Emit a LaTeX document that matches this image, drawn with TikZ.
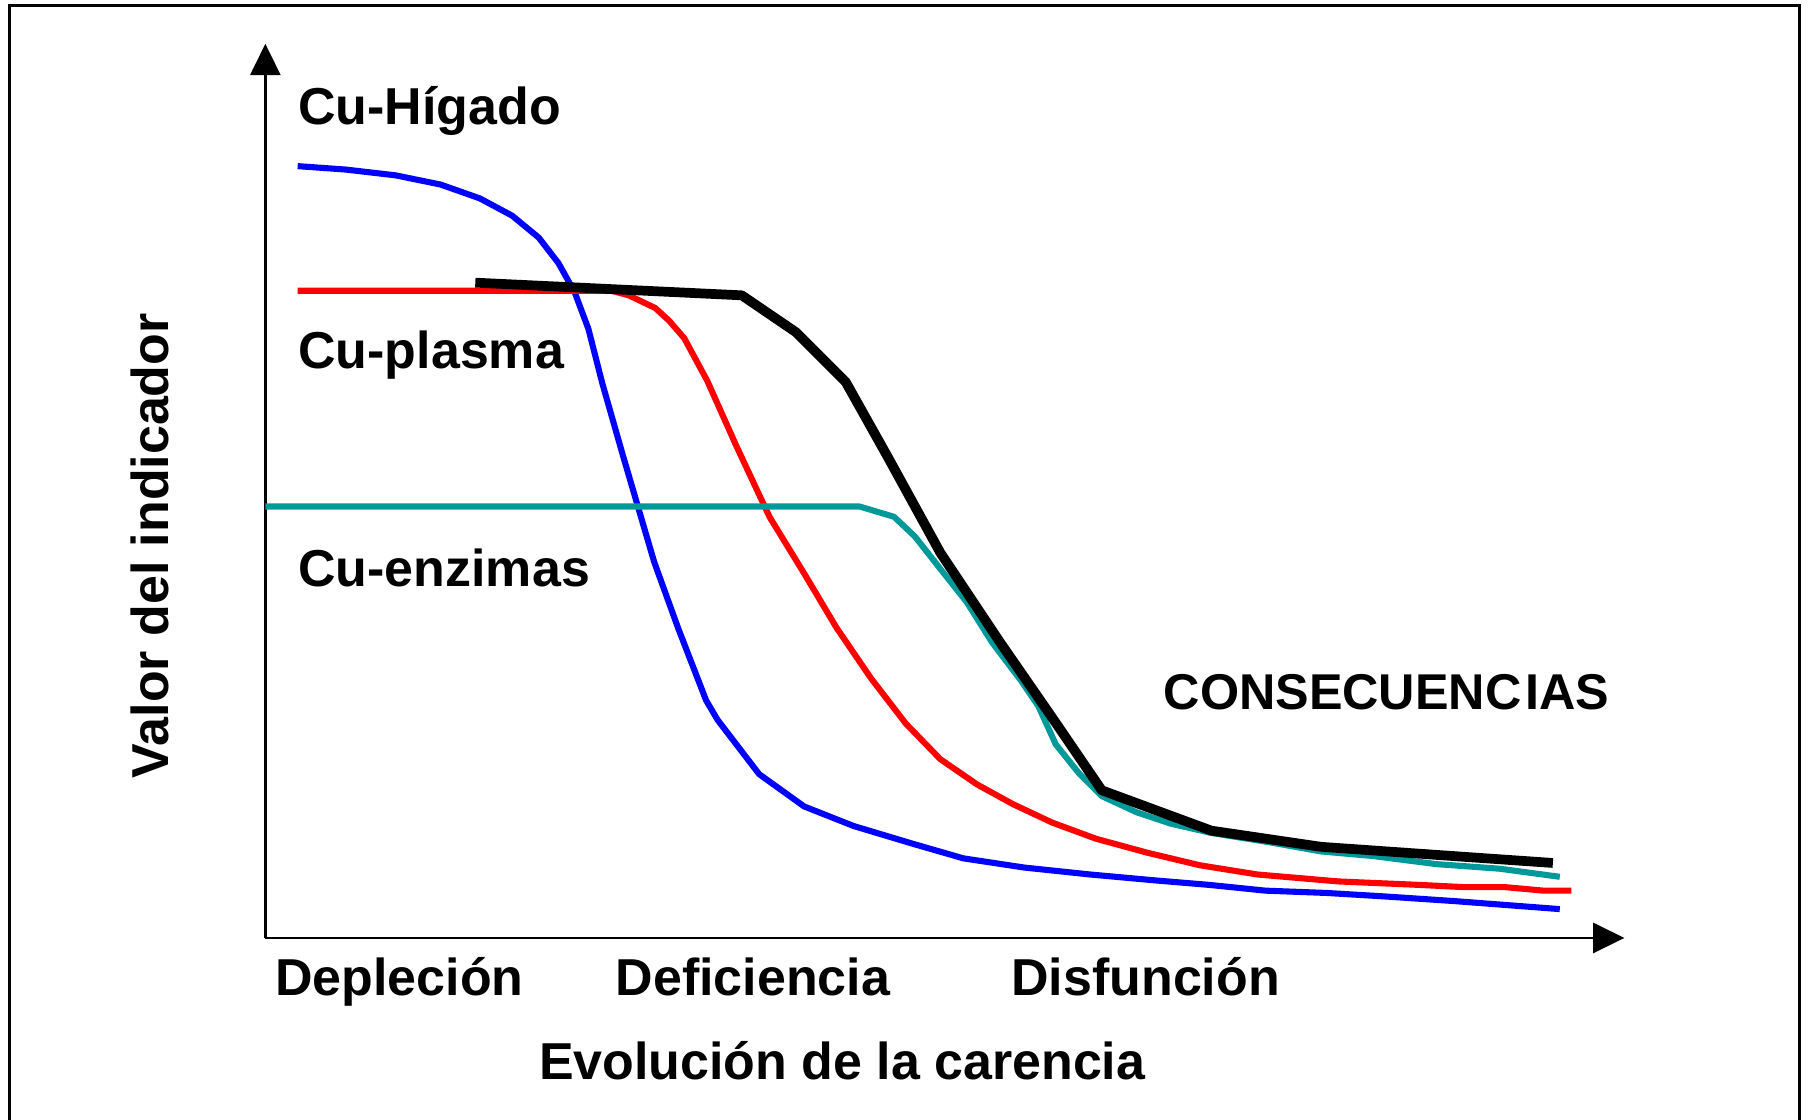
\documentclass[tikz,border=0pt]{standalone}
\usepackage{fontspec}
\setmainfont{Liberation Sans}
\usetikzlibrary{arrows.meta}

\definecolor{cublue}{RGB}{0,0,255}
\definecolor{cured}{RGB}{255,0,0}
\definecolor{cuteal}{RGB}{0,153,153}

\begin{document}
\begin{tikzpicture}[x=0.01cm,y=-0.01cm,
  lbl/.style={font=\fontsize{12.8}{15}\selectfont\bfseries,inner sep=0pt},
  axis/.style={line width=0.6pt,-{Triangle[length=2.7mm,width=2.6mm]}},
  curve/.style={line width=1.5pt,line join=round}]
\useasboundingbox (0,0) rectangle (1568,970);
% frame
\draw[line width=0.8pt] (8,980) -- (8,5) -- (1560,5) -- (1560,980);

% axes
\coordinate (orig) at (230,813);
\coordinate (ytip) at (230,38);
\coordinate (xtip) at (1408,813);
\draw[axis] (orig) -- (ytip);
\draw[axis] (orig) -- (xtip);

% Cu-Higado
\draw[curve,cublue] (258,144) -- (300,147) -- (343,152) -- (382,160) -- (416,172)
  -- (444,187) -- (467,206) -- (484,228) -- (498,253) -- (510,285) -- (522,332)
  -- (540,395) -- (567,487) -- (588,545) -- (612,607) -- (622,624) -- (658,671)
  -- (697,699) -- (740,716) -- (790,731) -- (835,744) -- (888,752) -- (945,758)
  -- (1000,763) -- (1048,767) -- (1097,772) -- (1150,774) -- (1200,777)
  -- (1260,781) -- (1352,788);

% Cu-plasma
\draw[curve,cured] (258,252) -- (530,252) -- (545,256) -- (568,267) -- (580,278)
  -- (593,293) -- (613,330) -- (638,386) -- (667,448) -- (697,497) -- (725,544)
  -- (755,588) -- (785,627) -- (815,658) -- (847,680) -- (878,697) -- (912,713)
  -- (950,727) -- (994,739) -- (1040,750) -- (1090,758) -- (1160,764)
  -- (1230,767) -- (1270,769) -- (1305,769) -- (1338,772) -- (1362,772);

% Cu-enzimas
\draw[curve,cuteal] (230,439) -- (745,439) -- (775,448) -- (793,465) -- (815,493)
  -- (838,522) -- (860,557) -- (885,590) -- (900,612) -- (915,645) -- (935,670)
  -- (955,690) -- (985,704) -- (1015,714) -- (1050,722) -- (1100,730)
  -- (1145,738) -- (1190,742) -- (1245,749) -- (1300,753) -- (1352,760);

% consecuencias
\draw[line width=2.4pt,line join=round] (412,245) -- (643,256) -- (690,288)
  -- (733,331) -- (770,397) -- (815,479) -- (867,557) -- (912,622) -- (955,685)
  -- (1050,720) -- (1145,734) -- (1245,741) -- (1346,748);

% labels
\node[lbl,anchor=base west] (higado) at (258,108) {Cu-Hígado};
\node[lbl,anchor=base west] (plasma) at (258,319) {Cu-plasma};
\node[lbl,anchor=base west] (enzimas) at (258,508) {Cu-enzimas};
\node[lbl,anchor=base west,font=\fontsize{12.4}{15}\selectfont\bfseries] (consec) at (1008,615) {CONSECUENC\kern0.08em IAS};
\node[lbl,anchor=base west] (deplecion) at (238,863) {Depleción};
\node[lbl,anchor=base west] (deficiencia) at (533,863) {Deficiencia};
\node[lbl,anchor=base west] (disfuncion) at (876,863) {Disfunción};
\node[lbl,anchor=base] (xlabel) at (730,936) {Evolución de la carencia};
\node[lbl,rotate=90] (ylabel) at (130,473) {Valor del indicador};
\end{tikzpicture}
\end{document}
